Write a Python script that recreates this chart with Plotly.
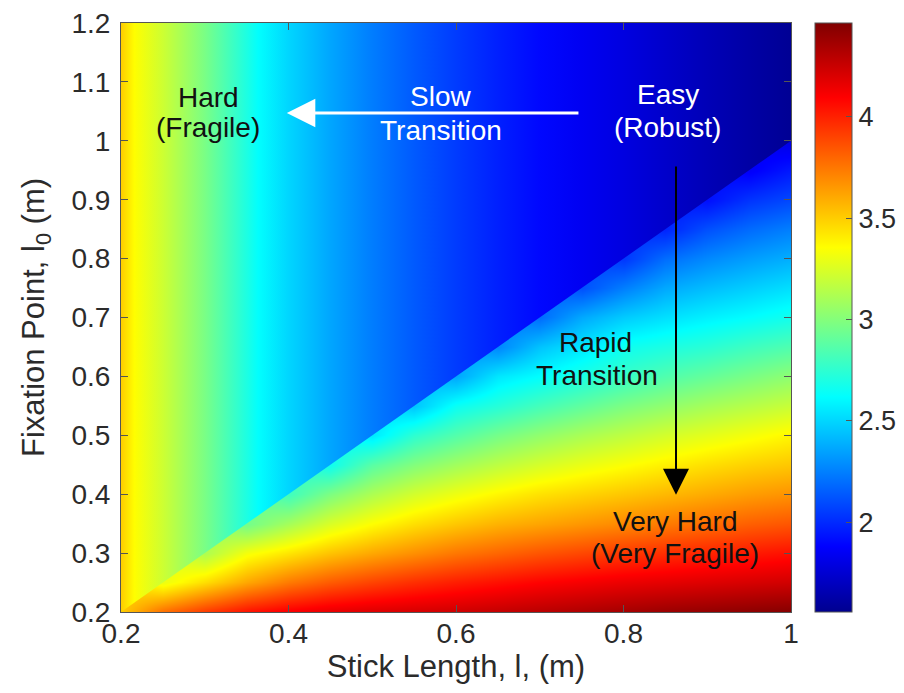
import plotly.graph_objects as go
from plotly.colors import sample_colorscale

# ---------------- data ----------------
# stick length l (m), grid columns
STICK_LENGTH = [0.20, 0.25, 0.30, 0.35, 0.40, 0.45, 0.50, 0.55, 0.60,
                0.65, 0.70, 0.75, 0.80, 0.85, 0.90, 0.95, 1.00]
# fixation point l0 (m), grid rows used for the region l0 <= l
FIXATION_POINT = [0.20, 0.25, 0.30, 0.35, 0.40, 0.45, 0.50, 0.55, 0.60,
                  0.65, 0.70, 0.75, 0.80, 0.85, 0.90, 0.95, 1.00]

# region l0 >= l : value depends on stick length only (vertical bands)
UPPER_LENGTH = [0.200, 0.216, 0.250, 0.294, 0.300, 0.350, 0.364, 0.400, 0.450, 0.500,
                0.550, 0.600, 0.650, 0.700, 0.750, 0.800, 0.850, 0.900, 0.950, 1.000]
UPPER_VALUES = [3.50, 3.36, 3.21, 3.00, 2.97, 2.70, 2.62, 2.50, 2.36, 2.24,
                2.14, 2.05, 1.97, 1.90, 1.84, 1.79, 1.73, 1.67, 1.62, 1.57]

# region l0 <= l : one list per stick length, from l0 = 0.20 up to l0 = l
LOWER_L020 = [3.50]
LOWER_L025 = [3.78, 3.30]
LOWER_L030 = [3.93, 3.45, 3.12]
LOWER_L035 = [4.05, 3.61, 3.33, 2.95]
LOWER_L040 = [4.12, 3.74, 3.43, 3.10, 2.80]
LOWER_L045 = [4.17, 3.83, 3.53, 3.25, 2.98, 2.66]
LOWER_L050 = [4.20, 3.90, 3.61, 3.36, 3.12, 2.88, 2.55]
LOWER_L055 = [4.22, 3.96, 3.68, 3.45, 3.23, 3.00, 2.75, 2.45]
LOWER_L060 = [4.24, 4.01, 3.75, 3.52, 3.31, 3.09, 2.86, 2.65, 2.36]
LOWER_L065 = [4.27, 4.05, 3.80, 3.58, 3.38, 3.17, 2.96, 2.73, 2.55, 2.27]
LOWER_L070 = [4.30, 4.09, 3.85, 3.62, 3.44, 3.24, 3.04, 2.82, 2.62, 2.45, 2.19]
LOWER_L075 = [4.33, 4.12, 3.89, 3.66, 3.48, 3.30, 3.11, 2.90, 2.70, 2.55, 2.37, 2.11]
LOWER_L080 = [4.36, 4.15, 3.93, 3.70, 3.52, 3.35, 3.17, 2.98, 2.78, 2.66, 2.47, 2.25, 2.04]
LOWER_L085 = [4.39, 4.17, 3.96, 3.74, 3.56, 3.40, 3.23, 3.04, 2.85, 2.70, 2.53, 2.37, 2.20,
              1.98]
LOWER_L090 = [4.41, 4.19, 3.99, 3.78, 3.60, 3.45, 3.28, 3.10, 2.91, 2.74, 2.58, 2.43, 2.28,
              2.11, 1.92]
LOWER_L095 = [4.43, 4.21, 4.02, 3.82, 3.64, 3.49, 3.33, 3.15, 2.97, 2.80, 2.62, 2.48, 2.34,
              2.19, 2.03, 1.86]
LOWER_L100 = [4.45, 4.23, 4.05, 3.85, 3.67, 3.52, 3.38, 3.20, 3.03, 2.85, 2.67, 2.53, 2.39,
              2.25, 2.09, 1.95, 1.80]
LOWER_COLUMNS = [LOWER_L020, LOWER_L025, LOWER_L030, LOWER_L035, LOWER_L040, LOWER_L045,
                 LOWER_L050, LOWER_L055, LOWER_L060, LOWER_L065, LOWER_L070, LOWER_L075,
                 LOWER_L080, LOWER_L085, LOWER_L090, LOWER_L095, LOWER_L100]

Z_MIN, Z_MAX = 1.556, 4.464
X_RANGE = [0.2, 1.0]
Y_RANGE = [0.2, 1.2]
X_TICKS = [0.2, 0.4, 0.6, 0.8, 1.0]
X_TICKTEXT = ["0.2", "0.4", "0.6", "0.8", "1"]
Y_TICKS = [0.2, 0.3, 0.4, 0.5, 0.6, 0.7, 0.8, 0.9, 1.0, 1.1, 1.2]
Y_TICKTEXT = ["0.2", "0.3", "0.4", "0.5", "0.6", "0.7", "0.8", "0.9", "1", "1.1", "1.2"]
CB_TICKS = [2, 2.5, 3, 3.5, 4]
CB_TICKTEXT = ["2", "2.5", "3", "3.5", "4"]

# MATLAB-like jet colour map
JET = [[0.0, "rgb(0,0,143)"], [0.111, "rgb(0,0,255)"], [0.365, "rgb(0,255,255)"],
       [0.619, "rgb(255,255,0)"], [0.873, "rgb(255,0,0)"], [1.0, "rgb(128,0,0)"]]

FONT = "Liberation Sans, Arial, sans-serif"
TXT = "#2b2b2b"
AXC = "#555555"

# ---------------- build grid table ----------------
# cells above the diagonal are hidden under the upper-region fill; they repeat
# the column's diagonal value so the smoothing below the diagonal stays clean
z = []
for j, _ in enumerate(FIXATION_POINT):
    row = []
    for col in LOWER_COLUMNS:
        row.append(col[j] if j < len(col) else col[-1])
    z.append(row)

fig = go.Figure()

fig.add_trace(go.Heatmap(
    x=STICK_LENGTH, y=FIXATION_POINT, z=z,
    zsmooth="best", colorscale=JET, zmin=Z_MIN, zmax=Z_MAX,
    hoverinfo="skip",
    colorbar=dict(
        x=(815 - 121) / 670, xanchor="left", xpad=0,
        y=0.5, yanchor="middle", len=1.0, lenmode="fraction", ypad=0,
        thickness=37, thicknessmode="pixels",
        outlinewidth=1, outlinecolor=AXC,
        ticks="inside", ticklen=6, tickwidth=1, tickcolor=AXC,
        tickvals=CB_TICKS, ticktext=CB_TICKTEXT,
        tickfont=dict(family=FONT, size=27, color=TXT),
    ),
))

# upper region: colour depends only on stick length -> horizontal gradient
l_lo, l_hi = UPPER_LENGTH[0], UPPER_LENGTH[-1]
upper_colors = sample_colorscale(JET, [(v - Z_MIN) / (Z_MAX - Z_MIN) for v in UPPER_VALUES])
grad_scale = [[(l - l_lo) / (l_hi - l_lo), c] for l, c in zip(UPPER_LENGTH, upper_colors)]
fig.add_trace(go.Scatter(
    x=[l_lo, l_hi, l_hi, l_lo],
    y=[l_lo, l_hi, Y_RANGE[1], Y_RANGE[1]],
    mode="lines", line=dict(width=0), fill="toself",
    fillgradient=dict(type="horizontal", start=l_lo, stop=l_hi, colorscale=grad_scale),
    hoverinfo="skip", showlegend=False,
))

# ---------------- annotations ----------------
LABELS = [
    ("Hard", 0.305, 1.074, "#111111"),
    ("(Fragile)", 0.304, 1.022, "#111111"),
    ("Slow", 0.582, 1.076, "white"),
    ("Transition", 0.582, 1.018, "white"),
    ("Easy", 0.853, 1.078, "white"),
    ("(Robust)", 0.853, 1.022, "white"),
    ("Rapid", 0.767, 0.657, "#111111"),
    ("Transition", 0.768, 0.602, "#111111"),
    ("Very Hard", 0.8615, 0.353, "#111111"),
    ("(Very Fragile)", 0.8615, 0.300, "#111111"),
]
ann = []
for t, xx, yy, c in LABELS:
    ann.append(dict(text=t, x=xx, y=yy, xref="x", yref="y", showarrow=False,
                    xanchor="center", yanchor="middle",
                    font=dict(family=FONT, size=28, color=c)))

ARROWS = [
    # tip x, tip y, tail x, tail y, colour, width, size
    (0.398, 1.047, 0.748, 1.047, "white", 3, 1.9),
    (0.8627, 0.399, 0.8627, 0.959, "black", 2, 2.6),
]
for x1, y1, x0, y0, c, w, s in ARROWS:
    ann.append(dict(text="", x=x1, y=y1, ax=x0, ay=y0, xref="x", yref="y",
                    axref="x", ayref="y", showarrow=True, arrowhead=2,
                    arrowsize=s, arrowwidth=w, arrowcolor=c, standoff=0))

axis_common = dict(
    ticks="inside", ticklen=7, tickwidth=1.2, tickcolor=AXC,
    showline=True, linecolor=AXC, linewidth=1, mirror="ticks",
    showgrid=False, zeroline=False, ticklabeloverflow="allow",
    tickfont=dict(family=FONT, size=28, color=TXT),
)

# the page body adds an 8px margin; the figure is made wider than the window
# so that the colour bar never pushes the plot area (the excess is off-screen)
fig.update_layout(
    width=920, height=685, autosize=False,
    margin=dict(l=113, r=137, t=15, b=81),
    paper_bgcolor="white", plot_bgcolor="white",
    font=dict(family=FONT, color=TXT),
    xaxis=dict(range=X_RANGE, tickvals=X_TICKS, ticktext=X_TICKTEXT,
               ticklabelstandoff=-4,
               title=dict(text="Stick Length, l, (m)", standoff=7,
                          font=dict(family=FONT, size=31, color=TXT)),
               automargin=False, **axis_common),
    yaxis=dict(range=Y_RANGE, tickvals=Y_TICKS, ticktext=Y_TICKTEXT,
               ticklabelstandoff=4,
               title=dict(text="Fixation Point, l<sub>0</sub> (m)", standoff=17,
                          font=dict(family=FONT, size=31, color=TXT)),
               automargin=False, **axis_common),
    annotations=ann,
    showlegend=False,
)

fig.write_html("out.html")
